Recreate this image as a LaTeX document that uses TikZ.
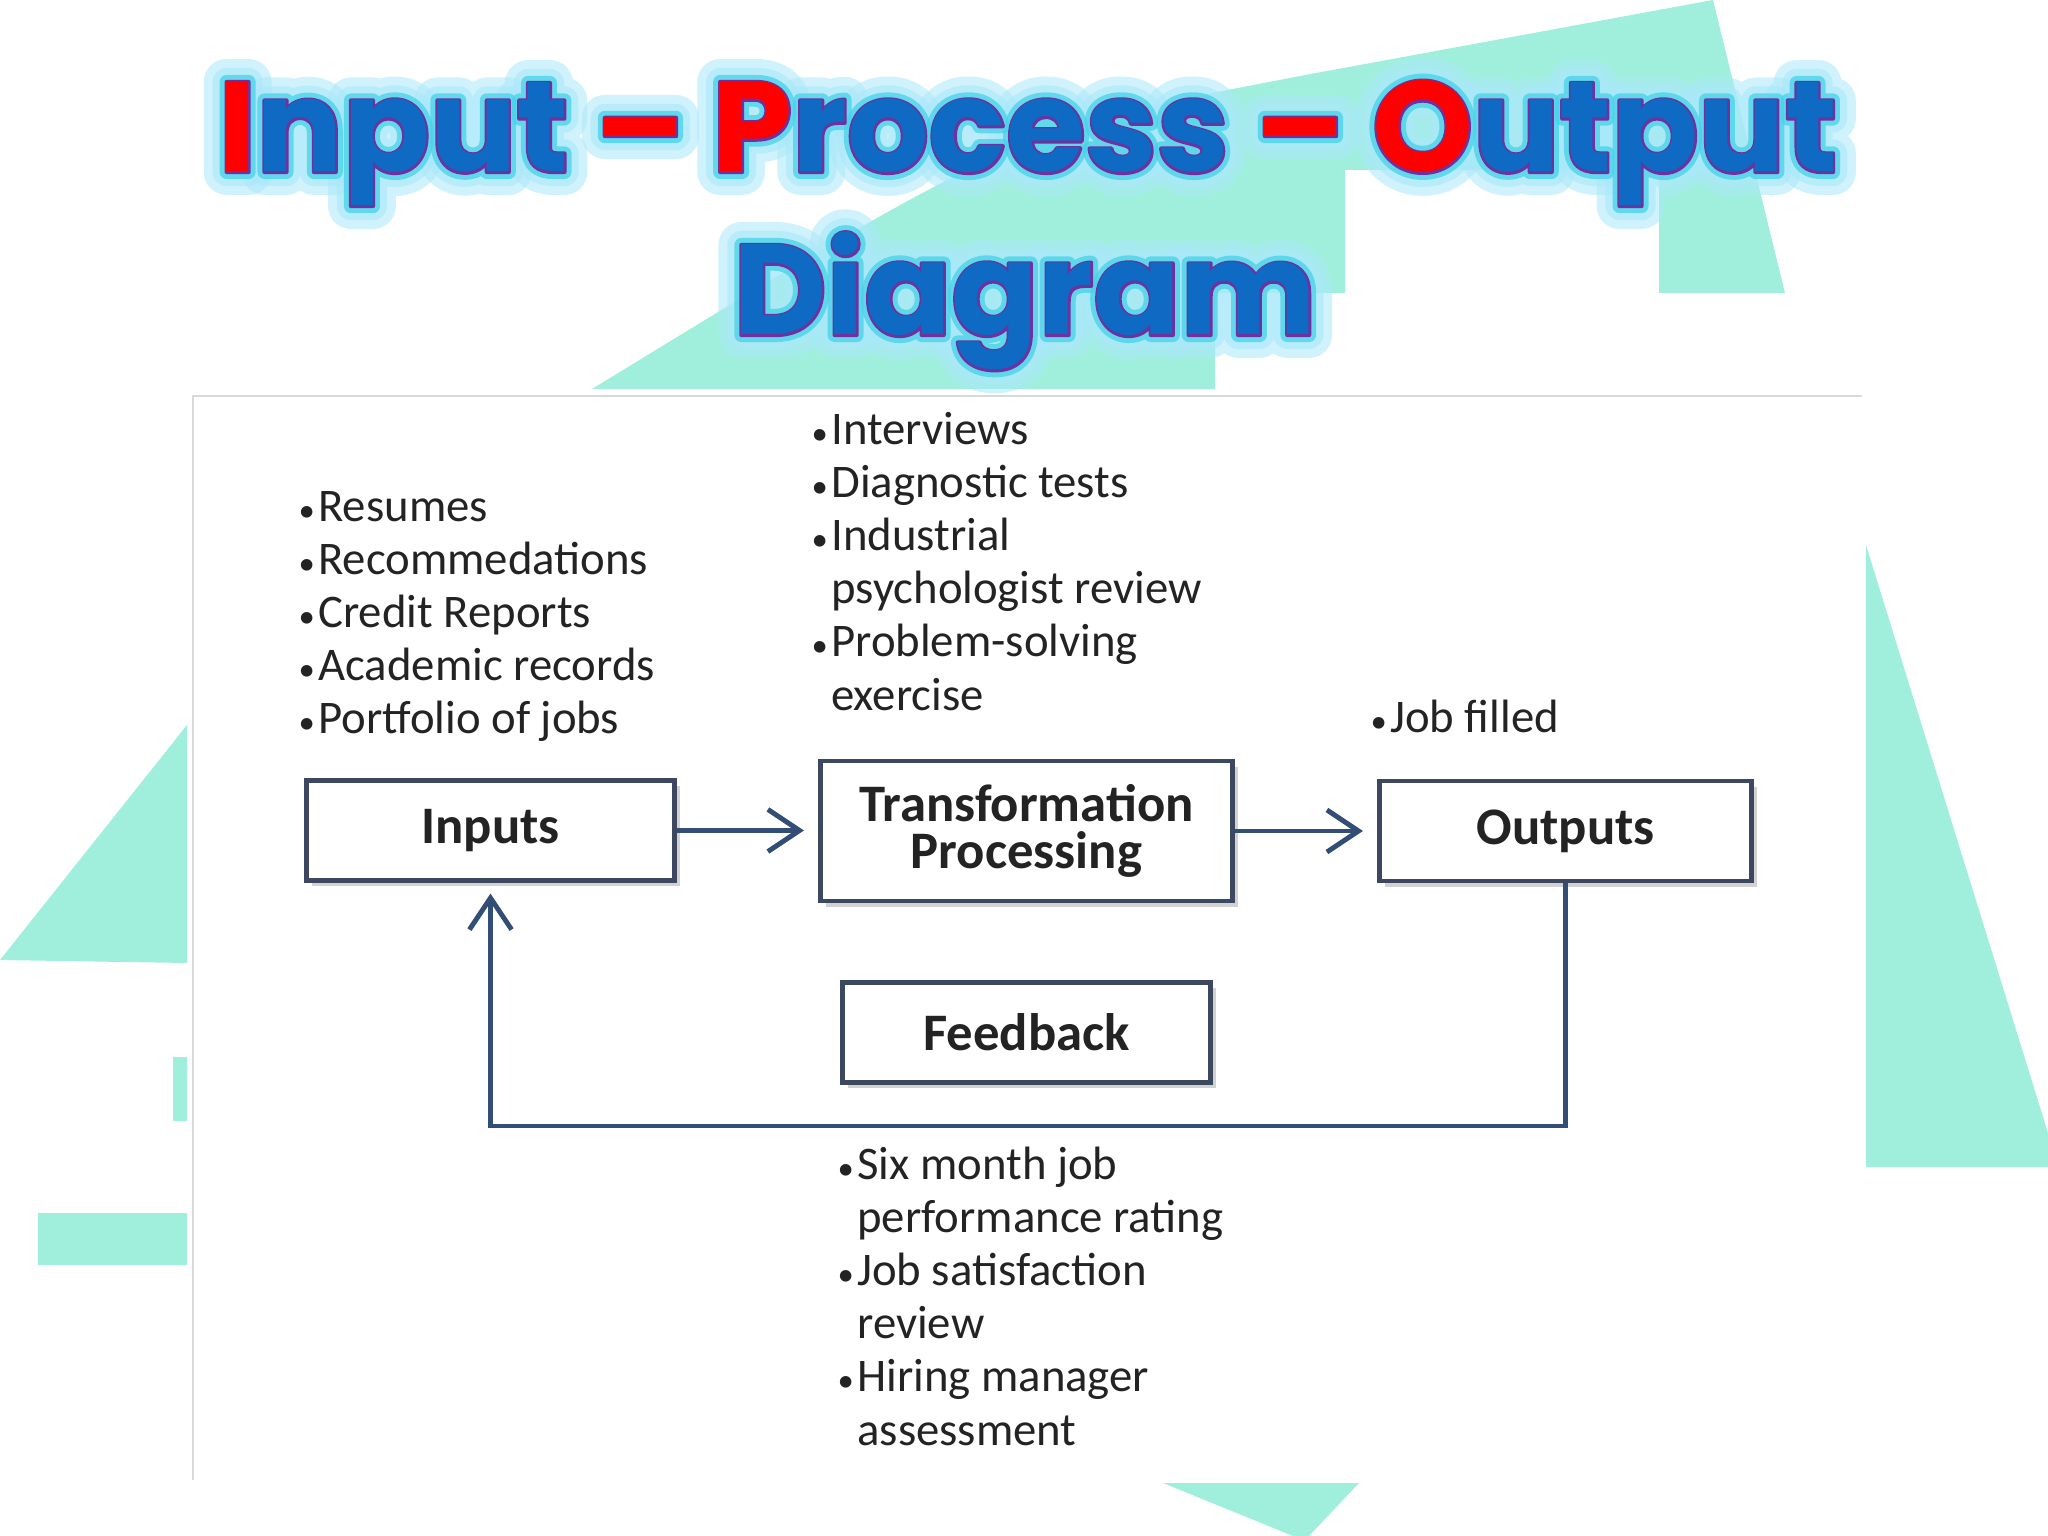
\documentclass[tikz,border=0pt]{standalone}
\usepackage{fontspec}
\setmainfont{Carlito}
\newfontfamily\titlefont{Poppins}
\usetikzlibrary{arrows.meta, positioning, shadows}

\definecolor{bgteal}{RGB}{160,239,221}
\definecolor{ttlblue}{RGB}{14,106,194}
\definecolor{ttlred}{RGB}{255,0,0}
\definecolor{ttlrim}{RGB}{112,48,160}
\definecolor{ttlglow}{RGB}{70,210,232}
\definecolor{ttlhalo}{RGB}{170,232,250}
\definecolor{boxline}{RGB}{60,72,96}
\definecolor{flowline}{RGB}{50,78,118}
\definecolor{txtgray}{RGB}{35,35,35}

\newcommand{\hl}[1]{\textcolor{ttlred}{#1}}
\newcommand{\bul}{\makebox[0.42em][l]{\scalebox{0.7}{•}}}
% stroke the glyphs of #2 with a line #1 bp wide (mode 2: fill and stroke)
\newcommand{\strk}[2]{\special{pdf:literal direct 2 Tr #1 w 1 j 1 J}#2%
  \special{pdf:literal direct 0 Tr}}

\begin{document}
\begin{tikzpicture}[
    >={Straight Barb[length=9pt, width=12pt]},
    stage/.style={draw=boxline, line width=1.4pt, fill=white,
                  minimum width=3.68cm, minimum height=1.0cm, align=center,
                  font=\fontsize{15}{13.5}\selectfont\bfseries, text=txtgray,
                  drop shadow={shadow xshift=1.6pt, shadow yshift=-1.6pt,
                               opacity=0.35}},
    list/.style={anchor=base west, inner sep=0pt, align=left,
                 font=\fontsize{13.3}{15.1}\selectfont, text=txtgray},
    flow/.style={draw=flowline, line width=1.4pt},
    title/.style={anchor=base, inner sep=0pt, text=ttlblue,
                  font=\titlefont\bfseries\fontsize{36.5}{40}\selectfont},
    halo/.style={title, execute at begin node=\let\hl\relax}
  ]
  \useasboundingbox (0,0) rectangle (20.48,-15.36);
  \fill[white] (0,0) rectangle (20.48,-15.36);

  % Background shapes
  \fill[bgteal] (17.13,0) -- (17.85,-2.93) -- (16.59,-2.93) -- (16.59,-1.70)
    -- (13.45,-1.70) -- (13.45,-2.93) -- (12.15,-2.93) -- (12.15,-3.89)
    -- (5.92,-3.89) .. controls (10.14,-1.31) .. (13.0,-0.76) -- cycle;
  \fill[bgteal] (0,-9.60) -- (1.87,-7.25) -- (1.87,-9.63) -- cycle;
  \fill[bgteal] (1.73,-10.57) rectangle (1.87,-11.21);
  \fill[bgteal] (0.38,-12.13) rectangle (1.87,-12.65);
  \fill[bgteal] (18.66,-5.45) -- (20.48,-11.33) -- (20.48,-11.67)
    -- (18.66,-11.67) -- cycle;
  \fill[bgteal] (11.63,-14.83) -- (13.59,-14.83) -- (13.09,-15.36)
    -- (12.93,-15.36) -- cycle;

  % Title: halo, purple rim, then the letters
  \foreach \w/\c/\o in {13/ttlhalo/0.55, 8/ttlhalo/0.6, 4/ttlglow/0.75, 1.2/ttlrim/1} {
    \node[halo, text=\c, opacity=\o] at (10.28,-1.72)
      {\strk{\w}{\hl{I}nput \hl{–} \hl{P}rocess \hl{–} \hl{O}utput}};
    \node[halo, text=\c, opacity=\o] at (10.25,-3.35) {\strk{\w}{Diagram}};
  }
  \node[title] (title1) at (10.28,-1.72)
    {\hl{I}nput \hl{–} \hl{P}rocess \hl{–} \hl{O}utput};
  \node[title] (title2) at (10.25,-3.35) {Diagram};

  % Panel
  \fill[white] (1.93,-3.96) rectangle (18.62,-14.80);
  \draw[gray!30, line width=0.6pt] (1.93,-14.80) -- (1.93,-3.96) -- (18.62,-3.96);

  % Stages
  \node[stage] (inputs) at (4.905,-8.305) {Inputs};
  \node[stage, minimum width=4.12cm, minimum height=1.40cm] (transform)
    at (10.265,-8.31) {Transformation\\Processing};
  \node[stage, minimum width=3.72cm] (outputs) at (15.655,-8.31) {Outputs};
  \node[stage] (feedback) at (10.265,-10.325) {Feedback};

  % Flow
  \coordinate (loop) at (0,-11.26);
  \draw[flow, ->, shorten >=4pt] (inputs.east) -- (transform.west |- inputs.east);
  \draw[flow, ->, shorten >=4pt] (transform.east |- outputs.west) -- (outputs.west);
  \draw[flow, ->, shorten >=3pt] (outputs.south) -- (outputs.south |- loop)
    -| (inputs.south);

  % Lists (anchored at the baseline of their last line)
  \node[list] (inlist) at (2.98,-7.34)
    {\bul Resumes\\ \bul Recommedations\\ \bul Credit Reports\\
     \bul Academic records\\ \bul Portfolio of jobs};
  \node[list] (proclist) at (8.11,-7.10)
    {\bul Interviews\\ \bul Diagnostic tests\\ \bul Industrial\\
     \hphantom{\bul}psychologist review\\ \bul Problem-solving\\
     \hphantom{\bul}exercise};
  \node[list] (outlist) at (13.70,-7.33) {\bul Job filled};
  \node[list] (fblist) at (8.37,-14.45)
    {\bul Six month job\\ \hphantom{\bul}performance rating\\
     \bul Job satisfaction\\ \hphantom{\bul}review\\
     \bul Hiring manager\\ \hphantom{\bul}assessment};
\end{tikzpicture}
\end{document}
